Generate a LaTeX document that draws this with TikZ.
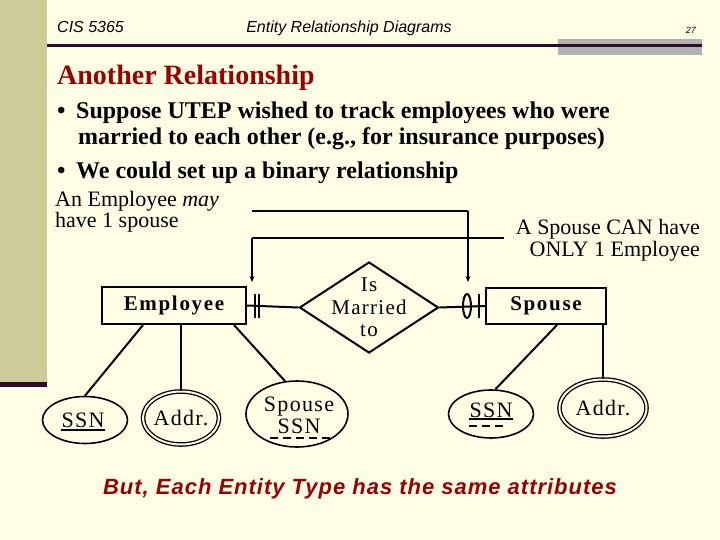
\documentclass[tikz,border=0pt]{standalone}
\usepackage{fontspec}
\setmainfont{Liberation Serif}
\setsansfont{Liberation Sans}
\usetikzlibrary{arrows.meta, shapes.geometric}
\definecolor{slidebg}{HTML}{FFFFE6}
\definecolor{stripe}{HTML}{CCCC99}
\definecolor{rulepurple}{HTML}{2E0A2E}
\definecolor{tabgray}{HTML}{B2B2B2}
\definecolor{headred}{HTML}{990000}
\newcommand{\wide}[1]{\addfontfeatures{LetterSpace=#1}}
\tikzset{
  % slide text, set on its baseline
  txt/.style     = {inner sep=0pt, anchor=base west},
  % an entity type
  ent/.style     = {draw, line width=2pt, minimum width=144pt, minimum height=37pt,
                    inner sep=0pt, font=\fontsize{21}{24}\selectfont\bfseries\wide{8}},
  % the relationship
  rel/.style     = {draw, diamond, line width=2pt, minimum width=139pt,
                    minimum height=91pt, inner sep=0pt},
  % an attribute
  att/.style     = {draw, ellipse, line width=1.6pt, inner sep=0pt},
  % a multivalued attribute
  matt/.style    = {att, double=slidebg, double distance=2pt, line width=1.3pt},
  % text inside a shape
  intxt/.style   = {inner sep=0pt, align=center, font=\fontsize{22}{23}\selectfont\wide{6}},
  % a connector
  ln/.style      = {line width=2pt},
  % the bar of a callout
  callbar/.style = {line width=2.5pt},
  % the drop of a callout onto a cardinality
  drop/.style    = {line width=1.2pt, -{Stealth[length=6pt,width=5pt]}},
  % cardinality marks
  cardmk/.style  = {line width=2pt},
  % key underlines
  keyln/.style   = {line width=2.2pt},
  pkeyln/.style  = {line width=2.5pt, dash pattern=on 8pt off 5pt},
}
\begin{document}
\begin{tikzpicture}[x=1pt, y=-1pt]
  % --- the slide ---
  \fill[slidebg] (0,0) rectangle (720,540);
  \useasboundingbox (0,0) rectangle (720,540);
  \fill[stripe] (0,0) rectangle (47,382);
  \fill[rulepurple] (0,382) rectangle (47,387);
  \fill[tabgray] (558,39) rectangle (702,55);
  \fill[rulepurple] (47,44) rectangle (702,47);
  \node[txt, font=\sffamily\itshape\fontsize{16}{18}\selectfont] (course) at (57,33) {CIS 5365};
  \node[txt, anchor=base, font=\sffamily\itshape\fontsize{16}{18}\selectfont] (topic) at (349,33) {Entity Relationship Diagrams};
  \node[txt, anchor=base east, font=\sffamily\itshape\fontsize{9}{10}\selectfont] (page) at (696,34) {27};
  % --- title and bullets ---
  \node[txt, text=headred, font=\fontsize{28}{32}\selectfont\bfseries] (title) at (57,85) {Another Relationship};
  \node[txt, font=\fontsize{24}{28}\selectfont\bfseries] (b1dot) at (57,119) {•};
  \node[txt, font=\fontsize{24}{28}\selectfont\bfseries] (b1) at (76,119) {Suppose UTEP wished to track employees who were};
  \node[txt, font=\fontsize{24}{28}\selectfont\bfseries] (b1b) at (78,145) {married to each other (e.g., for insurance purposes)};
  \node[txt, font=\fontsize{24}{28}\selectfont\bfseries] (b2dot) at (57,179) {•};
  \node[txt, font=\fontsize{24}{28}\selectfont\bfseries] (b2) at (76,179) {We could set up a binary relationship};
  % --- callouts ---
  \node[txt, font=\fontsize{22}{24}\selectfont] (may1) at (55,207) {An Employee \textit{may}};
  \node[txt, font=\fontsize{22}{24}\selectfont] (may2) at (55,227) {have 1 spouse};
  \node[txt, anchor=base east, font=\fontsize{22}{24}\selectfont] (only1) at (700,235) {A Spouse CAN have};
  \node[txt, anchor=base east, font=\fontsize{22}{24}\selectfont] (only2) at (700,256) {ONLY 1 Employee};
  % --- entities and relationship ---
  \node[ent] (emp) at (174,305.5) {Employee};
  \node[rel] (mar) at (369,307.5) {};
  \node[intxt, font=\fontsize{21}{22.5}\selectfont\wide{6}] (mar-t) at (mar) {Is\\Married\\to};
  \node[ent, minimum width=120pt, minimum height=36pt] (sps) at (546,306) {Spouse};
  \draw[ln] (emp.east) -- (mar.west);
  \draw[ln] (mar.east) -- (sps.west);
  % --- cardinalities ---
  \draw[cardmk] ([xshift=7.5pt]emp.east) ++(0,-12) -- ++(0,24);
  \draw[cardmk] ([xshift=12pt]emp.east) ++(0,-12) -- ++(0,24);
  \draw[cardmk] ([xshift=-6pt]sps.west) ++(0,-12) -- ++(0,24);
  \draw[cardmk] ([xshift=-18pt]sps.west) ellipse [x radius=4, y radius=12];
  % --- callout lines ---
  \coordinate (mayA) at (252,211);
  \coordinate (mayB) at (468,211);
  \coordinate (mayTip) at (468,282);
  \coordinate (onlyA) at (504,238);
  \coordinate (onlyB) at (252,238);
  \coordinate (onlyTip) at (252,282);
  \draw[callbar] (mayA) -- (mayB);
  \draw[drop] (mayB) -- (mayTip);
  \draw[callbar] (onlyA) -- (onlyB);
  \draw[drop] (onlyB) -- (onlyTip);
  % --- attributes ---
  \node[att, minimum width=85pt, minimum height=47pt] (essn) at (85,420) {};
  \node[matt, minimum width=76pt, minimum height=53pt] (eaddr) at (181,418) {};
  \node[att, minimum width=102pt, minimum height=66pt] (espssn) at (297,414) {};
  \node[att, minimum width=85pt, minimum height=48pt] (sssn) at (491,414) {};
  \node[matt, minimum width=87pt, minimum height=57pt] (saddr) at (603,408) {};
  \node[intxt, anchor=base] (essn-t) at (83,427) {SSN};
  \node[intxt] (eaddr-t) at (eaddr) {Addr.};
  \node[intxt, anchor=base] (espssn-a) at (299,411) {Spouse};
  \node[intxt, anchor=base] (espssn-b) at (299,433) {SSN};
  \node[intxt, anchor=base] (sssn-t) at (491,417) {SSN};
  \node[intxt] (saddr-t) at (saddr) {Addr.};
  \draw[keyln] ([yshift=-3pt]essn-t.base west) -- ([yshift=-3pt]essn-t.base east);
  \draw[pkeyln] ([xshift=-7pt, yshift=-5pt]espssn-b.base west) -- ([xshift=10pt, yshift=-5pt]espssn-b.base east);
  \draw[keyln] ([yshift=-2pt]sssn-t.base west) -- ([yshift=-2pt]sssn-t.base east);
  \draw[pkeyln] ([yshift=-9pt]sssn-t.base west) -- ([xshift=-8pt, yshift=-9pt]sssn-t.base east);
  \draw[ln] ([xshift=-31pt]emp.south) -- (essn.north);
  \draw[ln] (eaddr.north) -- (eaddr.north |- emp.south);
  \draw[ln] ([xshift=60pt]emp.south) -- (espssn.110);
  \draw[ln] ([xshift=11pt]sps.south) -- (sssn.80);
  \draw[ln] (saddr.north) -- (saddr.north |- sps.south);
  % --- the moral ---
  \node[txt, anchor=base, text=headred, font=\sffamily\bfseries\itshape\fontsize{22}{26}\selectfont\wide{4.5}] (moral) at (360,494) {But, Each Entity Type has the same attributes};
\end{tikzpicture}
\end{document}
